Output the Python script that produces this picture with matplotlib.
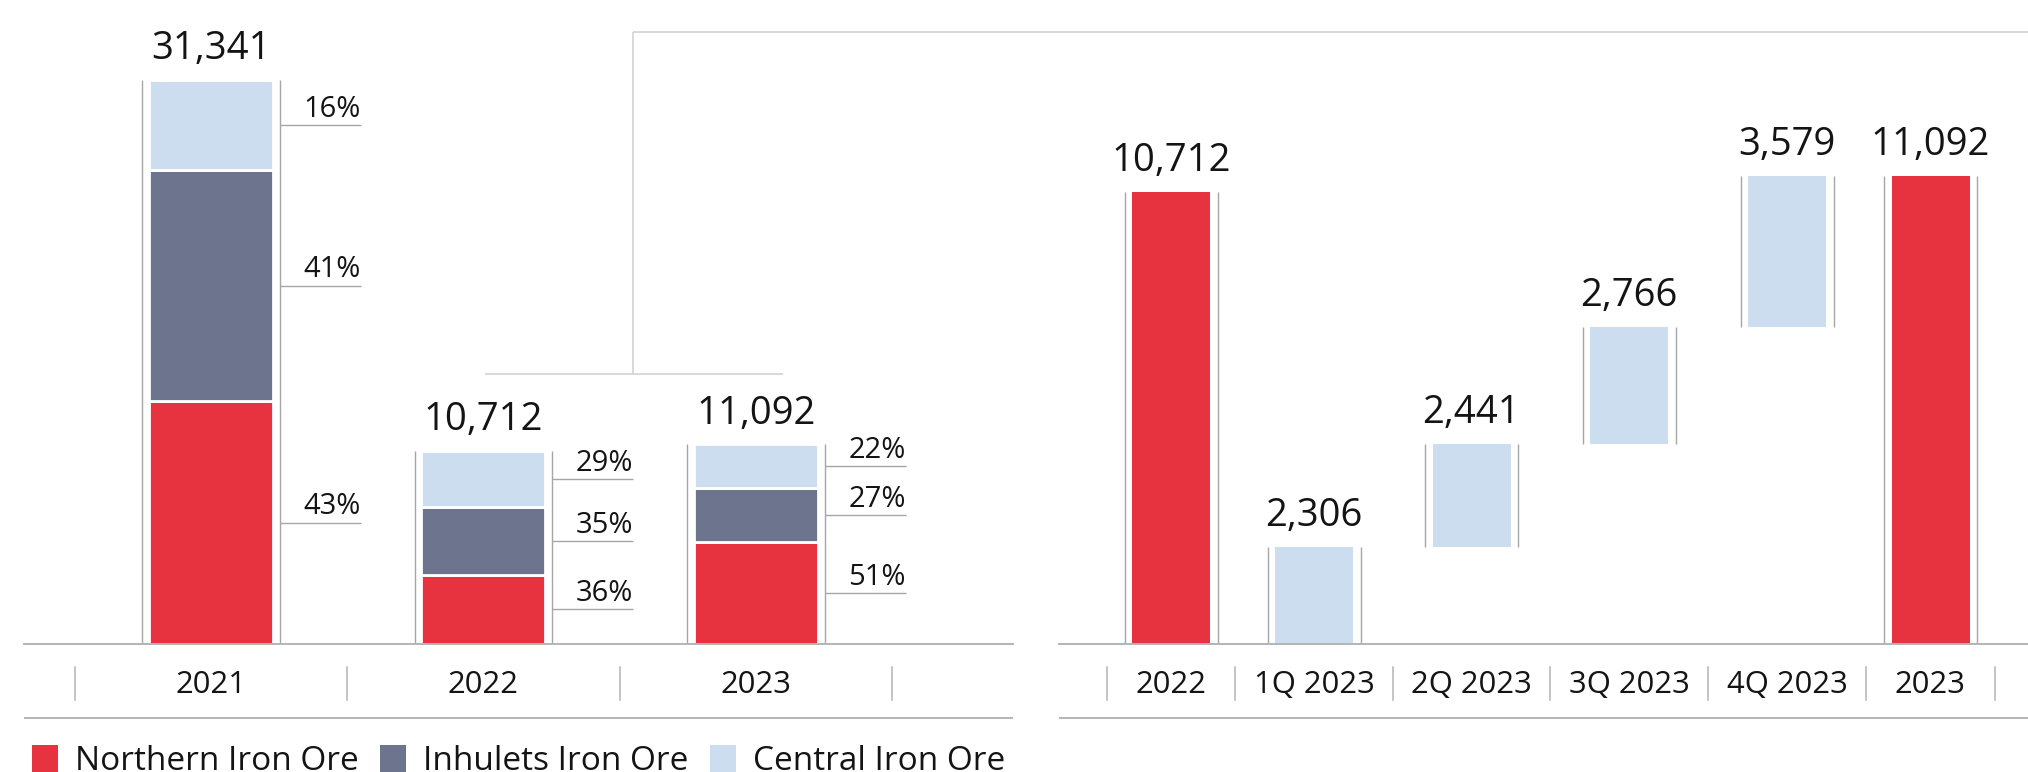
import matplotlib
matplotlib.use('Agg')
import matplotlib.pyplot as plt
import matplotlib.transforms as mtransforms
from matplotlib.lines import Line2D
from matplotlib.patches import Rectangle
import numpy as np

plt.rcParams['font.family'] = ['Open Sans', 'DejaVu Sans']

# ---------------- data ----------------
years = ['2021', '2022', '2023']
totals = [31341, 10712, 11092]
share_northern = [43, 36, 51]
share_inhulets = [41, 35, 27]
share_central = [16, 29, 22]
series_names = ['Northern Iron Ore', 'Inhulets Iron Ore', 'Central Iron Ore']

wf_labels = ['2022', '1Q 2023', '2Q 2023', '3Q 2023', '4Q 2023', '2023']
wf_values = [10712, 2306, 2441, 2766, 3579, 11092]
wf_is_total = [True, False, False, False, False, True]

# ---------------- style ----------------
RED = '#E6333F'
SLATE = '#6C758D'
LIGHT = '#CCDDEF'
colors = [RED, SLATE, LIGHT]
AXIS_GRAY = '#b4b4b4'
BRACKET_GRAY = '#a6a6a6'
CONN_GRAY = '#cfcfcf'
TXT = '#141414'

W, H = 2028, 772
fig = plt.figure(figsize=(W / 100, H / 100), dpi=100)


def fx(px):
    return px / W


def fy(py):
    return 1 - py / H


def fig_line(x1, y1, x2, y2, color, lw):
    fig.add_artist(Line2D([fx(x1), fx(x2)], [fy(y1), fy(y2)],
                          transform=fig.transFigure, color=color, lw=lw,
                          solid_capstyle='butt'))


BASE_Y = 644
VAL_FS = 27.5
PCT_FS = 21
CAT_FS = 22.3
LEG_FS = 24

# ---------------- left panel: stacked bars ----------------
axL = fig.add_axes([fx(24), fy(BASE_Y), fx(1013 - 24), BASE_Y / H])
axL.set_xlim(-0.686, 2.943)
axL.set_ylim(0, BASE_Y / 0.0180)
for s in ['top', 'left', 'right']:
    axL.spines[s].set_visible(False)
axL.spines['bottom'].set_color(AXIS_GRAY)
axL.spines['bottom'].set_linewidth(1.4)
axL.set_xticks([])
axL.set_yticks([])
axL.patch.set_alpha(0)

x = np.arange(len(years))
tot = np.array(totals, dtype=float)
shares = [share_northern, share_inhulets, share_central]
bottom = np.zeros(len(years))
BR_OFF = 0.253
LEAD_END = 0.55
for name, sh, c in zip(series_names, shares, colors):
    seg = tot * np.array(sh) / 100.0
    axL.bar(x, seg, bottom=bottom, width=0.455, color=c,
            edgecolor='white', linewidth=2.0, zorder=2)
    mids = bottom + seg / 2
    for xi, m, s in zip(x, mids, sh):
        axL.plot([xi + BR_OFF, xi + LEAD_END], [m, m], color=BRACKET_GRAY,
                 lw=1.0, solid_capstyle='butt', zorder=1)
        axL.annotate(f'{s}%', (xi + LEAD_END, m), xytext=(0, 6.0),
                     textcoords='offset points', ha='right', va='baseline',
                     fontsize=PCT_FS, color=TXT)
    bottom += seg

for xi, t in zip(x, tot):
    for off in (-BR_OFF, BR_OFF):
        axL.plot([xi + off, xi + off], [0, t], color=BRACKET_GRAY, lw=1.0,
                 solid_capstyle='butt', zorder=1)
    axL.annotate(f'{int(t):,}', (xi, t), xytext=(0, 15),
                 textcoords='offset points', ha='center', va='baseline',
                 fontsize=VAL_FS, color=TXT)

transL = mtransforms.blended_transform_factory(axL.transData, fig.transFigure)
for xi, lab in zip(x, years):
    axL.text(xi, fy(693), lab, transform=transL, ha='center', va='baseline',
             fontsize=CAT_FS, color=TXT, clip_on=False)
for sep in np.arange(len(years) + 1) - 0.5:
    axL.add_artist(Line2D([sep, sep], [fy(667), fy(700)], transform=transL,
                          color=AXIS_GRAY, lw=1.1, clip_on=False))
fig_line(24, 718, 1013, 718, AXIS_GRAY, 1.4)

# ---------------- right panel: waterfall ----------------
col_w = np.array([128, 158, 157, 158, 158, 129], dtype=float)
edges = np.concatenate([[0], np.cumsum(col_w)])
centers = (edges[:-1] + edges[1:]) / 2

axR = fig.add_axes([fx(1059), fy(BASE_Y), fx(2028 - 1059), BASE_Y / H])
axR.set_xlim(-48, 921)
axR.set_ylim(0, BASE_Y / 0.04219)
for s in ['top', 'left', 'right']:
    axR.spines[s].set_visible(False)
axR.spines['bottom'].set_color(AXIS_GRAY)
axR.spines['bottom'].set_linewidth(1.4)
axR.set_xticks([])
axR.set_yticks([])
axR.patch.set_alpha(0)

vals = np.array(wf_values, dtype=float)
bottoms = []
run = 0.0
for v, is_t in zip(vals, wf_is_total):
    if is_t:
        bottoms.append(0.0)
    else:
        bottoms.append(run)
        run += v
bottoms = np.array(bottoms)
bar_colors = [RED if t else LIGHT for t in wf_is_total]
axR.bar(centers, vals, bottom=bottoms, width=78, color=bar_colors,
        linewidth=0, zorder=2)
for cx, b, v in zip(centers, bottoms, vals):
    for off in (-46.5, 46.5):
        axR.plot([cx + off, cx + off], [b, b + v], color=BRACKET_GRAY, lw=1.0,
                 solid_capstyle='butt', zorder=1)
    axR.annotate(f'{int(v):,}', (cx, b + v), xytext=(0, 15),
                 textcoords='offset points', ha='center', va='baseline',
                 fontsize=VAL_FS, color=TXT)

transR = mtransforms.blended_transform_factory(axR.transData, fig.transFigure)
for cx, lab in zip(centers, wf_labels):
    axR.text(cx, fy(693), lab, transform=transR, ha='center', va='baseline',
             fontsize=CAT_FS, color=TXT, clip_on=False)
for e in edges:
    axR.add_artist(Line2D([e, e], [fy(667), fy(700)], transform=transR,
                          color=AXIS_GRAY, lw=1.1, clip_on=False))
fig_line(1059, 718, 2028, 718, AXIS_GRAY, 1.4)

# ---------------- connector bracket ----------------
fig_line(633, 32, 2028, 32, CONN_GRAY, 1.1)
fig_line(633, 32, 633, 374, CONN_GRAY, 1.1)
fig_line(485, 374, 783, 374, CONN_GRAY, 1.1)

# ---------------- legend ----------------
leg_text_x = [75, 423, 753]
for name, c, tx in zip(series_names, colors, leg_text_x):
    fig.add_artist(Rectangle((fx(tx - 43), 0), fx(26), 27 / H,
                             transform=fig.transFigure, color=c, lw=0))
    fig.text(fx(tx), 1.5 / H, name, ha='left', va='baseline',
             fontsize=LEG_FS, color=TXT)

fig.savefig('out.png', dpi=100)
